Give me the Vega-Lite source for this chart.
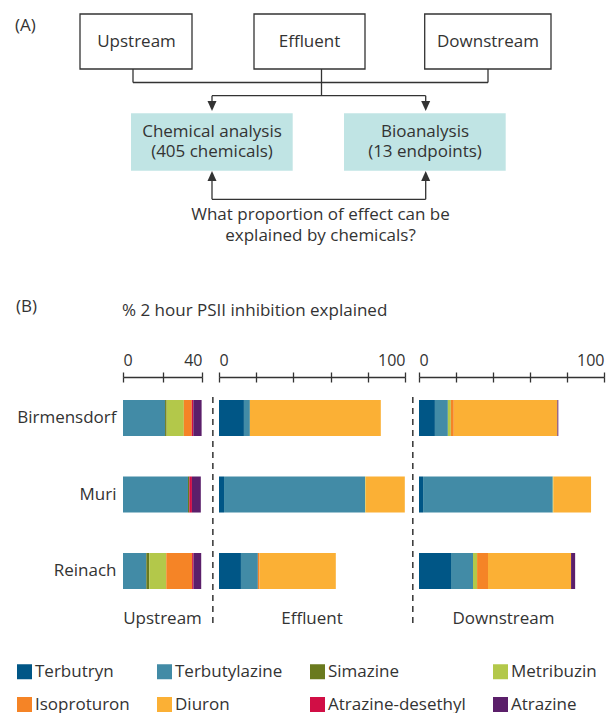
{
  "$schema": "https://vega.github.io/schema/vega-lite/v6.json",
  "padding": 0,
  "background": "white",
  "spacing": 0,
  "config": {
    "view": {"stroke": null},
    "font": "Open Sans",
    "axis": {"labelFont": "Open Sans", "labelColor": "#333333"},
    "legend": {"labelFont": "Open Sans"}
  },
  "datasets": {
    "chems": [
      {"chem": "Terbutryn", "rank": 1},
      {"chem": "Terbutylazine", "rank": 2},
      {"chem": "Simazine", "rank": 3},
      {"chem": "Metribuzin", "rank": 4},
      {"chem": "Isoproturon", "rank": 5},
      {"chem": "Diuron", "rank": 6},
      {"chem": "Atrazine-desethyl", "rank": 7},
      {"chem": "Atrazine", "rank": 8}
    ],
    "bars": [
      {"loc": "Upstream", "site": "Birmensdorf", "chem": "Terbutylazine", "pct": 21.3},
      {"loc": "Upstream", "site": "Birmensdorf", "chem": "Simazine", "pct": 0.8},
      {"loc": "Upstream", "site": "Birmensdorf", "chem": "Metribuzin", "pct": 8.7},
      {"loc": "Upstream", "site": "Birmensdorf", "chem": "Isoproturon", "pct": 4.0},
      {"loc": "Upstream", "site": "Birmensdorf", "chem": "Atrazine-desethyl", "pct": 0.8},
      {"loc": "Upstream", "site": "Birmensdorf", "chem": "Atrazine", "pct": 4.2},
      {"loc": "Upstream", "site": "Muri", "chem": "Terbutylazine", "pct": 32.9},
      {"loc": "Upstream", "site": "Muri", "chem": "Simazine", "pct": 0.7},
      {"loc": "Upstream", "site": "Muri", "chem": "Atrazine-desethyl", "pct": 1.3},
      {"loc": "Upstream", "site": "Muri", "chem": "Atrazine", "pct": 4.5},
      {"loc": "Upstream", "site": "Reinach", "chem": "Terbutylazine", "pct": 11.8},
      {"loc": "Upstream", "site": "Reinach", "chem": "Simazine", "pct": 1.5},
      {"loc": "Upstream", "site": "Reinach", "chem": "Metribuzin", "pct": 8.6},
      {"loc": "Upstream", "site": "Reinach", "chem": "Isoproturon", "pct": 13.1},
      {"loc": "Upstream", "site": "Reinach", "chem": "Atrazine-desethyl", "pct": 0.7},
      {"loc": "Upstream", "site": "Reinach", "chem": "Atrazine", "pct": 3.9},
      {"loc": "Effluent", "site": "Birmensdorf", "chem": "Terbutryn", "pct": 13.4},
      {"loc": "Effluent", "site": "Birmensdorf", "chem": "Terbutylazine", "pct": 3.2},
      {"loc": "Effluent", "site": "Birmensdorf", "chem": "Diuron", "pct": 70.4},
      {"loc": "Effluent", "site": "Muri", "chem": "Terbutryn", "pct": 2.7},
      {"loc": "Effluent", "site": "Muri", "chem": "Terbutylazine", "pct": 75.8},
      {"loc": "Effluent", "site": "Muri", "chem": "Metribuzin", "pct": 0.3},
      {"loc": "Effluent", "site": "Muri", "chem": "Diuron", "pct": 21.1},
      {"loc": "Effluent", "site": "Reinach", "chem": "Terbutryn", "pct": 11.8},
      {"loc": "Effluent", "site": "Reinach", "chem": "Terbutylazine", "pct": 9.1},
      {"loc": "Effluent", "site": "Reinach", "chem": "Isoproturon", "pct": 0.9},
      {"loc": "Effluent", "site": "Reinach", "chem": "Diuron", "pct": 41.0},
      {"loc": "Downstream", "site": "Birmensdorf", "chem": "Terbutryn", "pct": 8.6},
      {"loc": "Downstream", "site": "Birmensdorf", "chem": "Terbutylazine", "pct": 7.0},
      {"loc": "Downstream", "site": "Birmensdorf", "chem": "Metribuzin", "pct": 1.6},
      {"loc": "Downstream", "site": "Birmensdorf", "chem": "Isoproturon", "pct": 1.6},
      {"loc": "Downstream", "site": "Birmensdorf", "chem": "Diuron", "pct": 56.0},
      {"loc": "Downstream", "site": "Birmensdorf", "chem": "Atrazine", "pct": 0.5},
      {"loc": "Downstream", "site": "Muri", "chem": "Terbutryn", "pct": 2.2},
      {"loc": "Downstream", "site": "Muri", "chem": "Terbutylazine", "pct": 70.1},
      {"loc": "Downstream", "site": "Muri", "chem": "Metribuzin", "pct": 0.3},
      {"loc": "Downstream", "site": "Muri", "chem": "Diuron", "pct": 20.4},
      {"loc": "Downstream", "site": "Reinach", "chem": "Terbutryn", "pct": 17.3},
      {"loc": "Downstream", "site": "Reinach", "chem": "Terbutylazine", "pct": 11.9},
      {"loc": "Downstream", "site": "Reinach", "chem": "Metribuzin", "pct": 2.2},
      {"loc": "Downstream", "site": "Reinach", "chem": "Isoproturon", "pct": 5.9},
      {"loc": "Downstream", "site": "Reinach", "chem": "Diuron", "pct": 44.9},
      {"loc": "Downstream", "site": "Reinach", "chem": "Atrazine", "pct": 2.2}
    ],
    "boxes": [
      {"kind": "site", "x": 80, "x2": 192, "y": 14, "y2": 69},
      {"kind": "site", "x": 254, "x2": 365, "y": 14, "y2": 69},
      {"kind": "site", "x": 424.7, "x2": 551, "y": 14, "y2": 69},
      {"kind": "analysis", "x": 131, "x2": 292.7, "y": 113.3, "y2": 170.7},
      {"kind": "analysis", "x": 344, "x2": 505.7, "y": 113.3, "y2": 170.7}
    ],
    "links": [
      {"x": 133, "y": 69, "x2": 133, "y2": 82.5},
      {"x": 133, "y": 82.5, "x2": 488, "y2": 82.5},
      {"x": 488, "y": 69, "x2": 488, "y2": 82.5},
      {"x": 321.5, "y": 69, "x2": 321.5, "y2": 95.7},
      {"x": 212, "y": 95.7, "x2": 425.7, "y2": 95.7},
      {"x": 212, "y": 95.7, "x2": 212, "y2": 104},
      {"x": 425.7, "y": 95.7, "x2": 425.7, "y2": 104},
      {"x": 212, "y": 199.3, "x2": 425.7, "y2": 199.3},
      {"x": 212, "y": 199.3, "x2": 212, "y2": 178},
      {"x": 425.7, "y": 199.3, "x2": 425.7, "y2": 178}
    ],
    "heads": [
      {"x": 212, "y": 106, "dir": "down"},
      {"x": 425.7, "y": 106, "dir": "down"},
      {"x": 212, "y": 176, "dir": "up"},
      {"x": 425.7, "y": 176, "dir": "up"}
    ],
    "captions": [
      {"text": "Upstream", "x": 136.5, "y": 47},
      {"text": "Effluent", "x": 309.5, "y": 47},
      {"text": "Downstream", "x": 488, "y": 47},
      {"text": "Chemical analysis", "x": 212, "y": 136.5},
      {"text": "(405 chemicals)", "x": 212, "y": 157},
      {"text": "Bioanalysis", "x": 425, "y": 136.5},
      {"text": "(13 endpoints)", "x": 425, "y": 157},
      {"text": "What proportion of effect can be", "x": 320.5, "y": 220},
      {"text": "explained by chemicals?", "x": 320.5, "y": 241}
    ],
    "notes": [
      {"text": "(A)", "x": 15, "y": 31},
      {"text": "(B)", "x": 16, "y": 312},
      {"text": "% 2 hour PSII inhibition explained", "x": 122, "y": 316}
    ]
  },
  "vconcat": [
    {
      "width": 485,
      "height": 347,
      "layer": [
        {
          "data": {"name": "boxes"},
          "transform": [{"filter": "datum.kind == 'site'"}],
          "mark": {"type": "rect", "fill": "white", "stroke": "#333333", "strokeWidth": 1.3},
          "encoding": {
            "x": {"field": "x", "type": "quantitative", "scale": {"domain": [123, 608], "nice": false, "zero": false}, "axis": null},
            "x2": {"field": "x2"},
            "y": {"field": "y", "type": "quantitative", "scale": {"domain": [0, 347], "nice": false, "zero": false, "reverse": true}, "axis": null},
            "y2": {"field": "y2"}
          }
        },
        {
          "data": {"name": "boxes"},
          "transform": [{"filter": "datum.kind == 'analysis'"}],
          "mark": {"type": "rect", "fill": "#c0e4e4"},
          "encoding": {
            "x": {"field": "x", "type": "quantitative", "scale": {"domain": [123, 608], "nice": false, "zero": false}, "axis": null},
            "x2": {"field": "x2"},
            "y": {"field": "y", "type": "quantitative", "scale": {"domain": [0, 347], "nice": false, "zero": false, "reverse": true}, "axis": null},
            "y2": {"field": "y2"}
          }
        },
        {
          "data": {"name": "links"},
          "mark": {"type": "rule", "color": "#333333", "strokeWidth": 1.3},
          "encoding": {
            "x": {"field": "x", "type": "quantitative", "scale": {"domain": [123, 608], "nice": false, "zero": false}, "axis": null},
            "x2": {"field": "x2"},
            "y": {"field": "y", "type": "quantitative", "scale": {"domain": [0, 347], "nice": false, "zero": false, "reverse": true}, "axis": null},
            "y2": {"field": "y2"}
          }
        },
        {
          "data": {"name": "heads"},
          "mark": {"type": "point", "filled": true, "color": "#333333", "opacity": 1, "size": 100},
          "encoding": {
            "x": {"field": "x", "type": "quantitative", "scale": {"domain": [123, 608], "nice": false, "zero": false}, "axis": null},
            "y": {"field": "y", "type": "quantitative", "scale": {"domain": [0, 347], "nice": false, "zero": false, "reverse": true}, "axis": null},
            "shape": {"field": "dir", "type": "nominal", "scale": {"domain": ["down", "up"], "range": ["M-0.9,-1L0.9,-1L0,1Z", "M-0.9,1L0.9,1L0,-1Z"]}, "legend": null}
          }
        },
        {
          "data": {"name": "captions"},
          "mark": {"type": "text", "align": "center", "baseline": "alphabetic", "fontSize": 17, "font": "Open Sans", "color": "#333333"},
          "encoding": {
            "x": {"field": "x", "type": "quantitative", "scale": {"domain": [123, 608], "nice": false, "zero": false}, "axis": null},
            "y": {"field": "y", "type": "quantitative", "scale": {"domain": [0, 347], "nice": false, "zero": false, "reverse": true}, "axis": null},
            "text": {"field": "text"}
          }
        },
        {
          "data": {"name": "notes"},
          "mark": {"type": "text", "align": "left", "baseline": "alphabetic", "fontSize": 17, "font": "Open Sans", "color": "#333333"},
          "encoding": {
            "x": {"field": "x", "type": "quantitative", "scale": {"domain": [123, 608], "nice": false, "zero": false}, "axis": null},
            "y": {"field": "y", "type": "quantitative", "scale": {"domain": [0, 347], "nice": false, "zero": false, "reverse": true}, "axis": null},
            "text": {"field": "text"}
          }
        }
      ]
    },
    {
      "spacing": 4,
      "hconcat": [
        {
          "width": 79,
          "height": 248,
          "title": {"text": "Upstream", "orient": "bottom", "anchor": "middle", "offset": -15, "fontSize": 17, "fontWeight": "normal", "font": "Open Sans", "color": "#333333"},
          "layer": [
            {
              "data": {"name": "bars"},
              "transform": [
                {"filter": "datum.loc == 'Upstream'"},
                {"lookup": "chem", "from": {"data": {"name": "chems"}, "key": "chem", "fields": ["rank"]}}
              ],
              "mark": {"type": "bar"},
              "encoding": {
                "y": {"field": "site", "type": "nominal", "scale": {"domain": ["Birmensdorf", "Muri", "Reinach"], "paddingInner": 0.529, "paddingOuter": 0.3855, "align": 0.39},
                  "axis": {"title": null, "domain": false, "ticks": false, "labelFontSize": 17, "labelColor": "#333333", "labelPadding": 7, "minExtent": 123, "maxExtent": 123, "labelLimit": 200}},
                "x": {"field": "pct", "type": "quantitative", "stack": "zero", "scale": {"domain": [0, 40], "nice": false},
                  "axis": {"orient": "top", "values": [0, 20, 40], "labelExpr": "datum.value == 20 ? '' : datum.label", "labelFlush": true, "title": null, "tickSize": 5, "grid": true, "gridDash": [5, 1000], "gridColor": "#333333", "gridWidth": 1.3, "gridOpacity": 1, "domainColor": "#333333", "domainWidth": 1.3, "tickColor": "#333333", "tickWidth": 1.3, "labelFontSize": 16, "labelPadding": 4, "minExtent": 30, "maxExtent": 30}},
                "order": {"field": "rank", "type": "quantitative"},
                "color": {"field": "chem", "type": "nominal",
                  "scale": {"domain": ["Terbutryn", "Terbutylazine", "Simazine", "Metribuzin", "Isoproturon", "Diuron", "Atrazine-desethyl", "Atrazine"], "range": ["#005686", "#428ba6", "#6a7a1e", "#b3c84a", "#f58426", "#fbb035", "#d10e45", "#5b1f6a"]},
                  "legend": {"orient": "none", "legendX": -107, "legendY": 663, "direction": "horizontal", "columns": 4, "title": null, "symbolType": "square", "symbolSize": 225, "symbolStrokeWidth": 0, "symbolOpacity": 1, "labelFontSize": 17, "labelColor": "#333333", "columnPadding": 26, "rowPadding": 15, "labelOffset": 2, "labelLimit": 300, "padding": 0}}
              }
            },
            {
              "data": {"values": [{}]},
              "mark": {"type": "rule", "strokeDash": [6, 5], "strokeWidth": 1.5, "color": "#333333"},
              "encoding": {
                "x": {"datum": 45.5, "type": "quantitative", "scale": {"domain": [0, 40], "nice": false},
                  "axis": {"orient": "top", "values": [0, 20, 40], "labelExpr": "datum.value == 20 ? '' : datum.label", "labelFlush": true, "title": null, "tickSize": 5, "grid": true, "gridDash": [5, 1000], "gridColor": "#333333", "gridWidth": 1.3, "gridOpacity": 1, "domainColor": "#333333", "domainWidth": 1.3, "tickColor": "#333333", "tickWidth": 1.3, "labelFontSize": 16, "labelPadding": 4, "minExtent": 30, "maxExtent": 30}},
                "y": {"datum": 0.919, "type": "quantitative", "scale": {"domain": [0, 1], "nice": false}, "axis": null},
                "y2": {"datum": 0}
              }
            }
          ],
          "resolve": {"scale": {"y": "independent"}}
        },
        {
          "width": 186,
          "height": 248,
          "title": {"text": "Effluent", "orient": "bottom", "anchor": "middle", "offset": -15, "fontSize": 17, "fontWeight": "normal", "font": "Open Sans", "color": "#333333"},
          "layer": [
            {
              "data": {"name": "bars"},
              "transform": [
                {"filter": "datum.loc == 'Effluent'"},
                {"lookup": "chem", "from": {"data": {"name": "chems"}, "key": "chem", "fields": ["rank"]}}
              ],
              "mark": {"type": "bar"},
              "encoding": {
                "y": {"field": "site", "type": "nominal", "scale": {"domain": ["Birmensdorf", "Muri", "Reinach"], "paddingInner": 0.529, "paddingOuter": 0.3855, "align": 0.39}, "axis": null},
                "x": {"field": "pct", "type": "quantitative", "stack": "zero", "scale": {"domain": [0, 100], "nice": false},
                  "axis": {"orient": "top", "values": [0, 20, 40, 60, 80, 100], "labelExpr": "datum.value == 0 || datum.value == 100 ? datum.label : ''", "labelFlush": true, "title": null, "tickSize": 5, "grid": true, "gridDash": [5, 1000], "gridColor": "#333333", "gridWidth": 1.3, "gridOpacity": 1, "domainColor": "#333333", "domainWidth": 1.3, "tickColor": "#333333", "tickWidth": 1.3, "labelFontSize": 16, "labelPadding": 4, "minExtent": 30, "maxExtent": 30}},
                "order": {"field": "rank", "type": "quantitative"},
                "color": {"field": "chem", "type": "nominal",
                  "scale": {"domain": ["Terbutryn", "Terbutylazine", "Simazine", "Metribuzin", "Isoproturon", "Diuron", "Atrazine-desethyl", "Atrazine"], "range": ["#005686", "#428ba6", "#6a7a1e", "#b3c84a", "#f58426", "#fbb035", "#d10e45", "#5b1f6a"]},
                  "legend": {"orient": "none", "legendX": -107, "legendY": 663, "direction": "horizontal", "columns": 4, "title": null, "symbolType": "square", "symbolSize": 225, "symbolStrokeWidth": 0, "symbolOpacity": 1, "labelFontSize": 17, "labelColor": "#333333", "columnPadding": 26, "rowPadding": 15, "labelOffset": 2, "labelLimit": 300, "padding": 0}}
              }
            },
            {
              "data": {"values": [{}]},
              "mark": {"type": "rule", "strokeDash": [6, 5], "strokeWidth": 1.5, "color": "#333333"},
              "encoding": {
                "x": {"datum": 104.2, "type": "quantitative", "scale": {"domain": [0, 100], "nice": false},
                  "axis": {"orient": "top", "values": [0, 20, 40, 60, 80, 100], "labelExpr": "datum.value == 0 || datum.value == 100 ? datum.label : ''", "labelFlush": true, "title": null, "tickSize": 5, "grid": true, "gridDash": [5, 1000], "gridColor": "#333333", "gridWidth": 1.3, "gridOpacity": 1, "domainColor": "#333333", "domainWidth": 1.3, "tickColor": "#333333", "tickWidth": 1.3, "labelFontSize": 16, "labelPadding": 4, "minExtent": 30, "maxExtent": 30}},
                "y": {"datum": 0.919, "type": "quantitative", "scale": {"domain": [0, 1], "nice": false}, "axis": null},
                "y2": {"datum": 0}
              }
            }
          ],
          "resolve": {"scale": {"y": "independent"}}
        },
        {
          "width": 185,
          "height": 248,
          "title": {"text": "Downstream", "orient": "bottom", "anchor": "middle", "offset": -14, "dx": -8, "fontSize": 17, "fontWeight": "normal", "font": "Open Sans", "color": "#333333"},
          "data": {"name": "bars"},
          "transform": [
            {"filter": "datum.loc == 'Downstream'"},
            {"lookup": "chem", "from": {"data": {"name": "chems"}, "key": "chem", "fields": ["rank"]}}
          ],
          "mark": {"type": "bar"},
          "encoding": {
            "y": {"field": "site", "type": "nominal", "scale": {"domain": ["Birmensdorf", "Muri", "Reinach"], "paddingInner": 0.529, "paddingOuter": 0.3855, "align": 0.39}, "axis": null},
            "x": {"field": "pct", "type": "quantitative", "stack": "zero", "scale": {"domain": [0, 100], "nice": false},
              "axis": {"orient": "top", "values": [0, 20, 40, 60, 80, 100], "labelExpr": "datum.value == 0 || datum.value == 100 ? datum.label : ''", "labelFlush": true, "title": null, "tickSize": 5, "grid": true, "gridDash": [5, 1000], "gridColor": "#333333", "gridWidth": 1.3, "gridOpacity": 1, "domainColor": "#333333", "domainWidth": 1.3, "tickColor": "#333333", "tickWidth": 1.3, "labelFontSize": 16, "labelPadding": 4, "minExtent": 30, "maxExtent": 30}},
            "order": {"field": "rank", "type": "quantitative"},
            "color": {"field": "chem", "type": "nominal",
              "scale": {"domain": ["Terbutryn", "Terbutylazine", "Simazine", "Metribuzin", "Isoproturon", "Diuron", "Atrazine-desethyl", "Atrazine"], "range": ["#005686", "#428ba6", "#6a7a1e", "#b3c84a", "#f58426", "#fbb035", "#d10e45", "#5b1f6a"]},
              "legend": {"orient": "none", "legendX": -107, "legendY": 663, "direction": "horizontal", "columns": 4, "title": null, "symbolType": "square", "symbolSize": 225, "symbolStrokeWidth": 0, "symbolOpacity": 1, "labelFontSize": 17, "labelColor": "#333333", "columnPadding": 26, "rowPadding": 15, "labelOffset": 2, "labelLimit": 300, "padding": 0}}
          }
        }
      ]
    }
  ]
}
